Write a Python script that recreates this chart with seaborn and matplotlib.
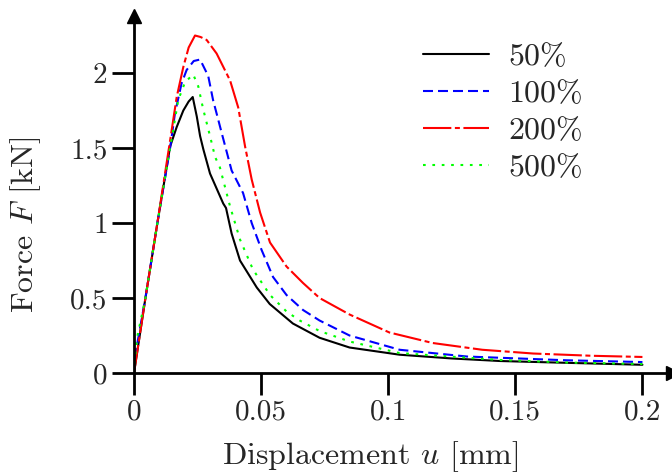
import matplotlib
matplotlib.use('Agg')
import matplotlib.pyplot as plt
import pandas as pd
import seaborn as sns

# Data (displacement in mm, force in kN)
x_50 = [0, 0.0045, 0.0092, 0.0142, 0.0168, 0.0194, 0.0215, 0.0231, 0.0247,
        0.026, 0.0273, 0.0299, 0.0325, 0.0351, 0.0362, 0.0384, 0.0417,
        0.0483, 0.0534, 0.0625, 0.073, 0.0848, 0.1045, 0.125, 0.144, 0.17,
        0.2]
f_50 = [0, 0.5, 1.0, 1.51, 1.64, 1.75, 1.81, 1.84, 1.71,
        1.58, 1.49, 1.33, 1.23, 1.13, 1.10, 0.93, 0.75,
        0.57, 0.46, 0.33, 0.235, 0.17, 0.122, 0.097, 0.08, 0.068,
        0.055]

x_100 = [0, 0.0008, 0.0045, 0.0092, 0.0142, 0.0161, 0.0187, 0.0207, 0.0235,
         0.026, 0.0292, 0.0311, 0.0325, 0.0345, 0.037, 0.0384, 0.0429,
         0.0463, 0.0502, 0.0547, 0.06, 0.0665, 0.073, 0.0848, 0.1045,
         0.131, 0.17, 0.2]
f_100 = [0, 0.15, 0.5, 1.0, 1.5, 1.73, 1.93, 2.02, 2.08,
         2.09, 1.98, 1.82, 1.73, 1.6, 1.44, 1.35, 1.2,
         1.0, 0.82, 0.64, 0.52, 0.42, 0.35, 0.25, 0.155,
         0.11, 0.085, 0.073]

x_200 = [0, 0.0045, 0.0092, 0.0142, 0.0168, 0.0194, 0.0215, 0.024, 0.0262,
         0.0286, 0.0325, 0.0378, 0.041, 0.0437, 0.0463, 0.0496, 0.0535,
         0.06, 0.0665, 0.073, 0.0848, 0.1005, 0.1175, 0.137, 0.157,
         0.18, 0.2]
f_200 = [0, 0.5, 1.0, 1.55, 1.84, 2.04, 2.17, 2.25, 2.24,
         2.22, 2.13, 1.95, 1.77, 1.51, 1.29, 1.07, 0.87,
         0.71, 0.6, 0.5, 0.39, 0.27, 0.2, 0.155, 0.13,
         0.115, 0.107]

x_500 = [0, 0.001, 0.0045, 0.0092, 0.0142, 0.0174, 0.0201, 0.0233, 0.0253,
         0.0272, 0.0299, 0.0319, 0.0338, 0.0378, 0.0417, 0.0468, 0.0535,
         0.06, 0.0652, 0.073, 0.0848, 0.1045, 0.144, 0.17, 0.2]
f_500 = [0, 0.22, 0.5, 1.0, 1.5, 1.82, 1.94, 1.99, 1.91,
         1.76, 1.58, 1.44, 1.37, 1.11, 0.89, 0.69, 0.52,
         0.41, 0.35, 0.28, 0.21, 0.133, 0.087, 0.07, 0.06]

labels = ['50%', '100%', '200%', '500%']
xticks = [0, 0.05, 0.1, 0.15, 0.2]
xtick_labels = ['0', '0.05', '0.1', '0.15', '0.2']
yticks = [0, 0.5, 1, 1.5, 2]
ytick_labels = ['0', '0.5', '1', '1.5', '2']

# Styles
colors = ['black', '#0000ff', '#ff0000', '#00ff00']
styles = ['-', (0, (4.8, 2.4)), (0, (13.6, 1.7, 2.4, 1.7)), (0, (1.3, 3.2))]


def main():
    sns.set_style('ticks')
    plt.rcParams['font.family'] = ['cmr10']
    plt.rcParams['mathtext.fontset'] = 'cm'
    plt.rcParams['axes.formatter.use_mathtext'] = True
    plt.rcParams['axes.unicode_minus'] = False

    series = [(x_50, f_50), (x_100, f_100), (x_200, f_200), (x_500, f_500)]

    fig = plt.figure(figsize=(6.72, 4.75), dpi=100)
    ax = fig.add_axes([0.1994, 0.2147, 0.802, 0.7516])

    for (xs, fs), lab, c, ls in zip(series, labels, colors, styles):
        df = pd.DataFrame({'u': xs, 'F': fs})
        sns.lineplot(data=df, x='u', y='F', ax=ax, color=c, linestyle=ls,
                     linewidth=1.5, label=lab, estimator=None, sort=False)

    ax.set_xlim(0, 0.212)
    ax.set_ylim(0, 2.38)
    ax.set_xticks(xticks)
    ax.set_xticklabels(xtick_labels)
    ax.set_yticks(yticks)
    ax.set_yticklabels(ytick_labels)
    ax.tick_params(axis='both', length=16, width=2, labelsize=21, pad=3,
                   direction='out', color='black')

    for side in ['top', 'right']:
        ax.spines[side].set_visible(False)
    for side in ['left', 'bottom']:
        ax.spines[side].set_linewidth(2)
        ax.spines[side].set_color('black')

    # Arrow heads at the axis ends
    ax.plot(1, 0, '>k', markersize=10, transform=ax.get_yaxis_transform(),
            clip_on=False)
    ax.plot(0, 1, '^k', markersize=10, transform=ax.get_xaxis_transform(),
            clip_on=False)

    ax.set_xlabel('Displacement $u$ [mm]', fontsize=23)
    ax.set_ylabel('Force $F$ [kN]', fontsize=23)
    ax.xaxis.set_label_coords(0.438, -0.185)
    ax.yaxis.set_label_coords(-0.169, 0.415)

    ax.legend(loc='upper left', bbox_to_anchor=(423 / 672, 1 - 43 / 475),
              bbox_transform=fig.transFigure, frameon=False, fontsize=23,
              handlelength=2.07, handletextpad=0.6, labelspacing=0.27,
              borderpad=0, borderaxespad=0)

    fig.savefig('out.png', dpi=100)


if __name__ == '__main__':
    main()
